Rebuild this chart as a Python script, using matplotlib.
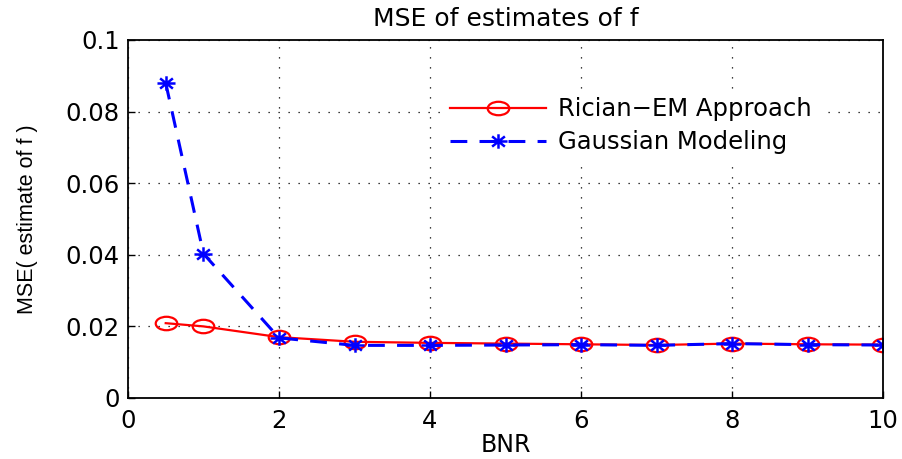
import matplotlib
matplotlib.use("Agg")
import matplotlib.pyplot as plt
import numpy as np
from matplotlib.path import Path
from matplotlib.transforms import Affine2D

bnr = [0.5, 1, 2, 3, 4, 5, 6, 7, 8, 9, 10]
rician = [0.0209, 0.0200, 0.0170, 0.0157, 0.0154, 0.0152, 0.0150, 0.0148, 0.0152, 0.0150, 0.0149]
gaussian = [0.0880, 0.0403, 0.0168, 0.0147, 0.0147, 0.0148, 0.0149, 0.0147, 0.0152, 0.0149, 0.0148]
xticks = [0, 2, 4, 6, 8, 10]
yticks = [0, 0.02, 0.04, 0.06, 0.08, 0.1]
ytick_labels = ["0", "0.02", "0.04", "0.06", "0.08", "0.1"]

plt.rcParams['font.family'] = ['DejaVu Sans']

# horizontally stretched marker shapes (the reference image is stretched)
ellipse = Path.unit_circle().transformed(Affine2D().scale(1.6, 1.0))
verts, codes = [], []
for ang in np.deg2rad([0, 45, 90, 135]):
    dx, dy = np.cos(ang), np.sin(ang)
    verts += [(-dx * 1.25, -dy), (dx * 1.25, dy)]
    codes += [Path.MOVETO, Path.LINETO]
asterisk = Path(verts, codes)

fig = plt.figure(figsize=(9.03, 4.59), dpi=100)
ax = fig.add_axes([0.1417, 0.1329, 0.8363, 0.78])

ax.plot(bnr, rician, color='red', linestyle='-', linewidth=1.6, marker=ellipse,
        markersize=15.5, markerfacecolor='none', markeredgecolor='red', markeredgewidth=1.6,
        label='Rician\u2212EM Approach')
ax.plot(bnr, gaussian, color='blue', linestyle=(0, (5.5, 4)), linewidth=2.2, marker=asterisk,
        markersize=13, markerfacecolor='blue', markeredgecolor='blue', markeredgewidth=1.8,
        label='Gaussian Modeling')

ax.set_xlim(0, 10)
ax.set_ylim(0, 0.1)
ax.set_xticks(xticks)
ax.set_yticks(yticks)
ax.set_yticklabels(ytick_labels)
ax.tick_params(direction='in', labelsize=17.5, length=5, width=1, pad=6)
ax.tick_params(axis='x', pad=8)
ax.grid(True, color='black', linestyle=(0, (1, 7)), linewidth=0.9)
for s in ax.spines.values():
    s.set_linewidth(1.3)

ax.set_title('MSE of estimates of f', fontsize=18, pad=10)
ax.set_xlabel('BNR', fontsize=17, labelpad=0)
ax.set_ylabel('MSE( estimate of f )', fontsize=15.5,
              family=['Liberation Sans'], labelpad=20)

leg = ax.legend(loc='upper left', bbox_to_anchor=(0.401, 0.895), fontsize=17.5, frameon=True,
                handlelength=3.95, borderpad=0.3, labelspacing=0.38, handletextpad=0.5)
leg.get_frame().set_edgecolor('white')
leg.get_frame().set_facecolor('white')
leg.get_frame().set_alpha(1)

fig.savefig('out.png', dpi=100)
